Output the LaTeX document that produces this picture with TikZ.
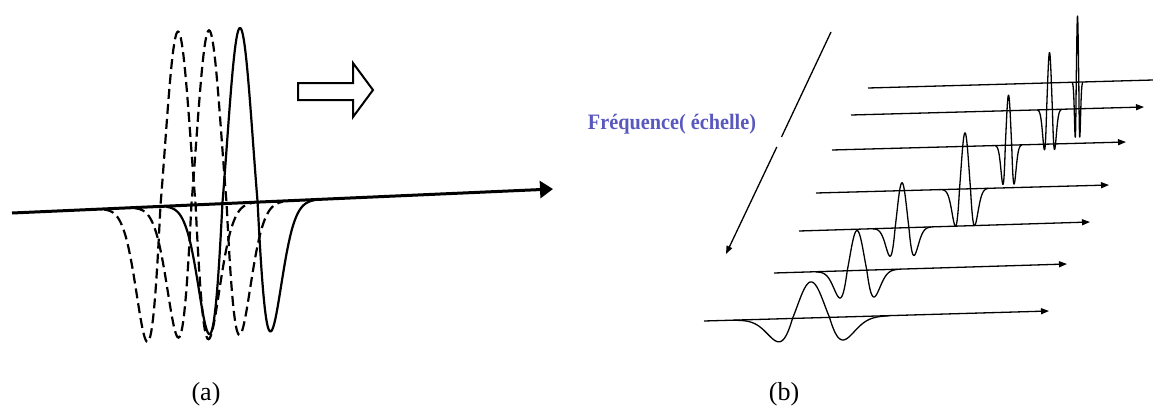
\documentclass[tikz,border=0pt]{standalone}
\usepackage{fontspec}
\setmainfont{Liberation Serif}
\usetikzlibrary{arrows.meta}
\definecolor{freqblue}{RGB}{88,88,190}
% #1 style, #2 cx, #3 cy, #4 slope, #5 s, #6 peak height, #7 trough depth
\newcommand\wvlet[7]{%
  \draw[#1] plot[domain=-4.2*#5:4.2*#5, samples=161]
    ({#2+\x}, {#3 + #4*\x - ((\x/#5)*(\x/#5) < 1 ? #6 : #7/0.4463)*(1-(\x/#5)*(\x/#5))*exp(-0.5*(\x/#5)*(\x/#5))});}
\begin{document}
\begin{tikzpicture}[x=1pt,y=-1pt,
  awave/.style={line width=2.2pt, line join=round},
  dwave/.style={line width=2.2pt, dash pattern=on 10pt off 5pt},
  bline/.style={line width=1.3pt, -{Triangle[length=8pt,width=6pt]}},
  bwave/.style={line width=1.3pt, line join=round},
  lbl/.style={font=\fontsize{26}{30}\selectfont}]
\useasboundingbox (0,0) rectangle (1153,413);
% ---------- panel (a)
\coordinate (aS) at (12,213);
\coordinate (aE) at (553,189);
\wvlet{dwave}{178}{205.6}{-0.0444}{17.6}{174}{135}
\wvlet{dwave}{209}{204.3}{-0.0444}{17.6}{174}{132}
\wvlet{awave}{240}{202.9}{-0.0444}{17.6}{175}{130}
\draw[line width=3pt, -{Triangle[length=13pt,width=17pt]}] (aS) -- (aE);
\draw[line width=2pt, line join=miter] (298,83) coordinate (bA) -- (353,83) -- (353,63) -- (373,90) coordinate (bT) -- (353,117) -- (353,100) -- (298,100) -- cycle;
\node[lbl] (la) at (206,394) {(a)};
% ---------- panel (b)
\coordinate (d1) at (831,32);
\coordinate (d2) at (781.5,137);
\coordinate (d3) at (776.8,147);
\coordinate (d4) at (726,254);
\draw[line width=1.3pt] (d1) -- (d2);
\draw[bline] (d3) -- (d4);
\node[font=\bfseries\fontsize{22}{26}\selectfont, text=freqblue] (freq) at (672,124) {\scalebox{0.92}[1]{Fréquence( échelle)}};
\coordinate (s1) at (704,321); \coordinate (e1) at (1049,311);
\coordinate (s2) at (774,273); \coordinate (e2) at (1067,264);
\coordinate (s3) at (799,231); \coordinate (e3) at (1090,222);
\coordinate (s4) at (816,193); \coordinate (e4) at (1109,185);
\coordinate (s5) at (832,150); \coordinate (e5) at (1126,142);
\coordinate (s6) at (851,115); \coordinate (e6) at (1144,107);
\coordinate (s7) at (868,88);  \coordinate (e7) at (1153,80);
\foreach \i in {1,...,6} {\draw[bline] (s\i) -- (e\i);}
\draw[line width=1.3pt] (s7) -- (e7);
\wvlet{bwave}{811}{317.9}{-0.029}{18.5}{36}{23}
\wvlet{bwave}{857}{270.5}{-0.0307}{9.8}{40}{27}
\wvlet{bwave}{902}{227.8}{-0.031}{6.9}{45}{28}
\wvlet{bwave}{965}{188.9}{-0.0273}{5.5}{56}{37}
\wvlet{bwave}{1008.5}{145.2}{-0.0272}{3.2}{50}{39}
\wvlet{bwave}{1049.5}{109.6}{-0.0273}{2.9}{57}{40}
\wvlet{bwave}{1077.5}{82.1}{-0.028}{1.3}{66}{55}
\node[lbl] (lb) at (784,394) {(b)};
\end{tikzpicture}
\end{document}
